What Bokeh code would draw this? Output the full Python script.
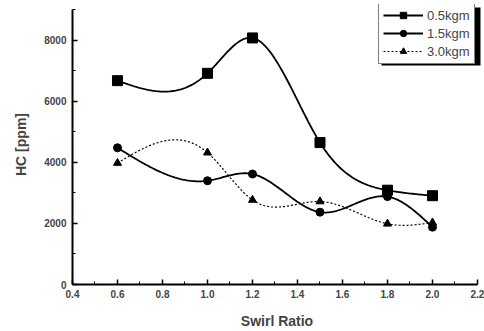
import numpy as np
from bokeh.plotting import figure
from bokeh.models import Range1d, FixedTicker, Legend, LegendItem, BoxAnnotation
from bokeh.embed import file_html
from bokeh.resources import INLINE

swirl = [0.6, 1.0, 1.2, 1.5, 1.8, 2.0]
hc_05 = [6680, 6920, 8080, 4650, 3090, 2910]
hc_15 = [4480, 3400, 3620, 2370, 2880, 1880]
hc_30 = [3980, 4320, 2770, 2720, 1990, 2030]
labels = ["0.5kgm", "1.5kgm", "3.0kgm"]
x_ticks = [0.4, 0.6, 0.8, 1.0, 1.2, 1.4, 1.6, 1.8, 2.0, 2.2]
y_ticks = [0, 2000, 4000, 6000, 8000]


def natural_spline(x, y, n=300):
    x = np.asarray(x, float)
    y = np.asarray(y, float)
    m = len(x)
    h = np.diff(x)
    A = np.zeros((m, m))
    b = np.zeros(m)
    A[0, 0] = 1
    A[-1, -1] = 1
    for i in range(1, m - 1):
        A[i, i - 1] = h[i - 1]
        A[i, i] = 2 * (h[i - 1] + h[i])
        A[i, i + 1] = h[i]
        b[i] = 3 * ((y[i + 1] - y[i]) / h[i] - (y[i] - y[i - 1]) / h[i - 1])
    c = np.linalg.solve(A, b)
    xs = np.linspace(x[0], x[-1], n)
    ys = np.empty_like(xs)
    for k, xv in enumerate(xs):
        i = min(np.searchsorted(x, xv, side="right") - 1, m - 2)
        dx = xv - x[i]
        bi = (y[i + 1] - y[i]) / h[i] - h[i] * (2 * c[i] + c[i + 1]) / 3
        di = (c[i + 1] - c[i]) / (3 * h[i])
        ys[k] = y[i] + bi * dx + c[i] * dx ** 2 + di * dx ** 3
    return xs, ys


# frame: left 72, right 481, top 4, bottom 285
p = figure(width=484, height=331, output_backend="svg", toolbar_location=None,
           x_range=Range1d(0.4, 2.2178), y_range=Range1d(0, 9175),
           min_border_left=72, min_border_right=3, min_border_top=4, min_border_bottom=46)
p.xgrid.visible = False
p.ygrid.visible = False
p.outline_line_color = None
p.background_fill_color = "white"
p.border_fill_color = "white"

for ax in (p.xaxis, p.yaxis):
    ax.axis_line_width = 2
    ax.axis_line_color = "black"
    ax.major_tick_in = 5
    ax.major_tick_out = 0
    ax.minor_tick_in = 3
    ax.minor_tick_out = 0
    ax.major_tick_line_width = 1.5
    ax.major_label_text_font = "Liberation Sans"
    ax.major_label_text_font_style = "bold"
    ax.major_label_text_font_size = "10px"
    ax.axis_label_text_font = "Liberation Sans"
    ax.axis_label_text_font_style = "bold"
    ax.axis_label_text_font_size = "14px"

p.xaxis.bounds = (0.4, 2.2)
p.yaxis.bounds = (0, 9000)
p.xaxis.ticker = FixedTicker(ticks=x_ticks, minor_ticks=[0.5 + 0.2 * i for i in range(9)])
p.yaxis.ticker = FixedTicker(ticks=y_ticks, minor_ticks=[1000, 3000, 5000, 7000, 9000])
p.xaxis.major_label_overrides = {t: f"{t:.1f}" for t in x_ticks}
p.xaxis.axis_label = "Swirl Ratio"
p.yaxis.axis_label = "HC [ppm]"
p.xaxis.major_label_standoff = 5
p.yaxis.major_label_standoff = 6
p.xaxis.axis_label_standoff = 12
p.yaxis.axis_label_standoff = 12

items = []
series = [(hc_05, "square", 10, None), (hc_15, "circle", 8, None), (hc_30, "triangle", 8, "2 2")]
for (vals, marker, size, dash), lab in zip(series, labels):
    xs, ys = natural_spline(swirl, vals)
    if dash:
        l = p.line(xs, ys, line_color="black", line_width=1.2, line_dash=dash)
    else:
        l = p.line(xs, ys, line_color="black", line_width=1.8)
    s = p.scatter(swirl, vals, marker=marker, size=size, fill_color="black", line_color="black")
    items.append(LegendItem(label=lab, renderers=[l, s]))

shadow = BoxAnnotation(left=309, right=408, top=277, bottom=219,
                       left_units="screen", right_units="screen",
                       top_units="screen", bottom_units="screen",
                       fill_color="black", fill_alpha=1.0, line_color=None)
p.add_layout(shadow)

legend = Legend(items=items, location=(306, 220), border_line_color="black",
                border_line_width=1.5, label_text_font="Liberation Sans",
                label_text_font_size="13px", glyph_width=40, glyph_height=16,
                spacing=2, padding=4, margin=0, label_standoff=4,
                background_fill_alpha=1.0)
p.add_layout(legend, "center")

open("out.html", "w").write(file_html(p, INLINE))
